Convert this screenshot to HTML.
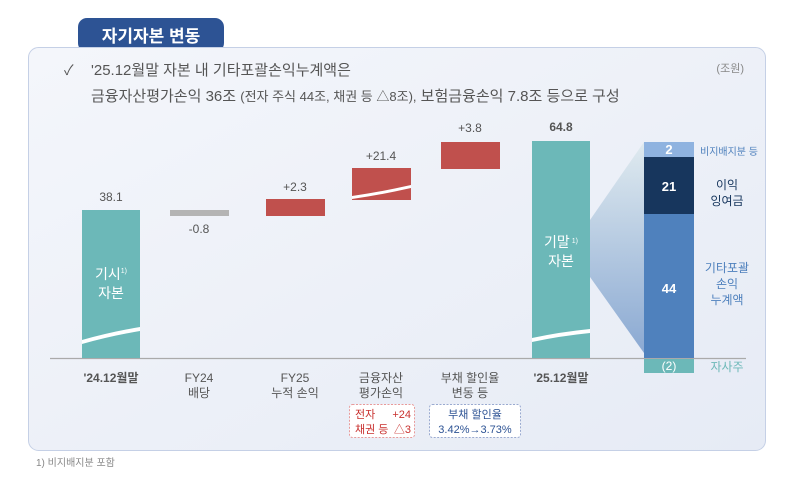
<!DOCTYPE html>
<html><head><meta charset="utf-8"><style>
html,body{margin:0;padding:0;background:#fff;width:800px;height:477px;overflow:hidden}
svg{display:block;font-family:"Liberation Sans","Noto Sans CJK KR",sans-serif}
</style></head><body>
<svg width="800" height="477" viewBox="0 0 800 477">
<defs>
<linearGradient id="pg" x1="0" y1="0" x2="1" y2="1">
<stop offset="0" stop-color="#f4f6fb"/><stop offset="1" stop-color="#e6ebf5"/></linearGradient>
<linearGradient id="fan" x1="0" y1="0" x2="0" y2="1">
<stop offset="0" stop-color="#dde9ee"/><stop offset="1" stop-color="#7a9dcc"/></linearGradient>
</defs>
<rect x="78" y="18" width="146" height="34" rx="9" fill="#2d5394"/>
<text x="151" y="42" font-size="17" font-weight="bold" fill="#fff" text-anchor="middle">자기자본 변동</text>
<rect x="28.5" y="47.5" width="737" height="403" rx="10" fill="url(#pg)" stroke="#c5d0e6"/>
<text x="64" y="75" font-size="14" fill="#555">✓</text>
<text x="91" y="75" font-size="15" fill="#555">'25.12월말 자본 내 기타포괄손익누계액은</text>
<text x="91" y="101" font-size="15" fill="#555">금융자산평가손익 36조 <tspan font-size="13">(전자 주식 44조, 채권 등 △8조),</tspan> 보험금융손익 7.8조 등으로 구성</text>
<text x="744" y="72" font-size="11" fill="#888" text-anchor="end">(조원)</text>
<line x1="50" y1="358.5" x2="746" y2="358.5" stroke="#aaa" stroke-width="1.2"/>
<!-- bar1 -->
<rect x="82" y="210" width="58" height="148" fill="#6cb8b8"/>
<path d="M82 340 Q110 332 140 327 L140 331 Q110 336 82 344Z" fill="#fff"/>
<text x="111" y="201" font-size="12" fill="#555" text-anchor="middle">38.1</text>
<text x="111" y="279" font-size="14" fill="#fff" text-anchor="middle">기시<tspan font-size="7" dy="-6">1)</tspan></text>
<text x="111" y="298" font-size="14" fill="#fff" text-anchor="middle">자본</text>
<rect x="170" y="210" width="59" height="6" fill="#b4b4b4"/>
<text x="199" y="233" font-size="12" fill="#555" text-anchor="middle">-0.8</text>
<rect x="266" y="199" width="59" height="17" fill="#c0504d"/>
<text x="295" y="191" font-size="12" fill="#555" text-anchor="middle">+2.3</text>
<rect x="352" y="168" width="59" height="32" fill="#c0504d"/>
<path d="M352 196 Q380 192 411 185 L411 188 Q380 195 352 199Z" fill="#fff"/>
<text x="381" y="160" font-size="12" fill="#555" text-anchor="middle">+21.4</text>
<rect x="441" y="142" width="59" height="27" fill="#c0504d"/>
<text x="470" y="132" font-size="12" fill="#555" text-anchor="middle">+3.8</text>
<rect x="532" y="141" width="58" height="217" fill="#6cb8b8"/>
<path d="M532 338 Q560 332 590 329 L590 333 Q560 336 532 342Z" fill="#fff"/>
<text x="561" y="131" font-size="12" font-weight="bold" fill="#555" text-anchor="middle">64.8</text>
<text x="561" y="247" font-size="14" fill="#fff" text-anchor="middle">기말<tspan font-size="7" dy="-4"> 1)</tspan></text>
<text x="561" y="266" font-size="14" fill="#fff" text-anchor="middle">자본</text>
<polygon points="590,220 644,142 644,353 590,277" fill="url(#fan)" opacity="0.85"/>
<rect x="644" y="142" width="50" height="15" fill="#8fb3e0"/>
<rect x="644" y="157" width="50" height="57" fill="#17365d"/>
<rect x="644" y="214" width="50" height="144" fill="#4f81bd"/>
<rect x="644" y="359" width="50" height="14" fill="#6cb8b8"/>
<text x="669" y="154" font-size="13" font-weight="bold" fill="#fff" text-anchor="middle">2</text>
<text x="669" y="191" font-size="13" font-weight="bold" fill="#fff" text-anchor="middle">21</text>
<text x="669" y="293" font-size="13" font-weight="bold" fill="#fff" text-anchor="middle">44</text>
<text x="669" y="370" font-size="12" fill="#fff" text-anchor="middle">(2)</text>
<text x="700" y="155" font-size="10" fill="#4f81bd">비지배지분 등</text>
<text x="727" y="189" font-size="12" fill="#17365d" text-anchor="middle">이익</text>
<text x="727" y="205" font-size="12" fill="#17365d" text-anchor="middle">잉여금</text>
<text x="727" y="272" font-size="12" fill="#4f81bd" text-anchor="middle">기타포괄</text>
<text x="727" y="288" font-size="12" fill="#4f81bd" text-anchor="middle">손익</text>
<text x="727" y="304" font-size="12" fill="#4f81bd" text-anchor="middle">누계액</text>
<text x="727" y="371" font-size="12" fill="#6cb8b8" text-anchor="middle">자사주</text>
<g font-size="12" fill="#555" text-anchor="middle">
<text x="111" y="382" font-weight="bold">'24.12월말</text>
<text x="199" y="382">FY24</text><text x="199" y="397">배당</text>
<text x="295" y="382">FY25</text><text x="295" y="397">누적 손익</text>
<text x="381" y="382">금융자산</text><text x="381" y="397">평가손익</text>
<text x="470" y="382">부채 할인율</text><text x="470" y="397">변동 등</text>
<text x="561" y="382" font-weight="bold">'25.12월말</text>
</g>
<rect x="349.5" y="404.5" width="65" height="33" rx="3" fill="#fff" stroke="#e89a9a" stroke-dasharray="2,1.5"/>
<text x="355" y="418" font-size="11" fill="#c8302e">전자</text><text x="411" y="418" font-size="11" fill="#c8302e" text-anchor="end">+24</text>
<text x="355" y="433" font-size="11" fill="#c8302e">채권 등</text><text x="411" y="433" font-size="11" fill="#c8302e" text-anchor="end">△3</text>
<rect x="429.5" y="404.5" width="91" height="33" rx="3" fill="#fff" stroke="#9aaad0" stroke-dasharray="2,1.5"/>
<text x="475" y="418" font-size="11" fill="#2d5394" text-anchor="middle">부채 할인율</text>
<text x="475" y="433" font-size="11" fill="#2d5394" text-anchor="middle">3.42%→3.73%</text>
<text x="36" y="466" font-size="10" fill="#888">1) 비지배지분 포함</text>
</svg>
</body></html>
